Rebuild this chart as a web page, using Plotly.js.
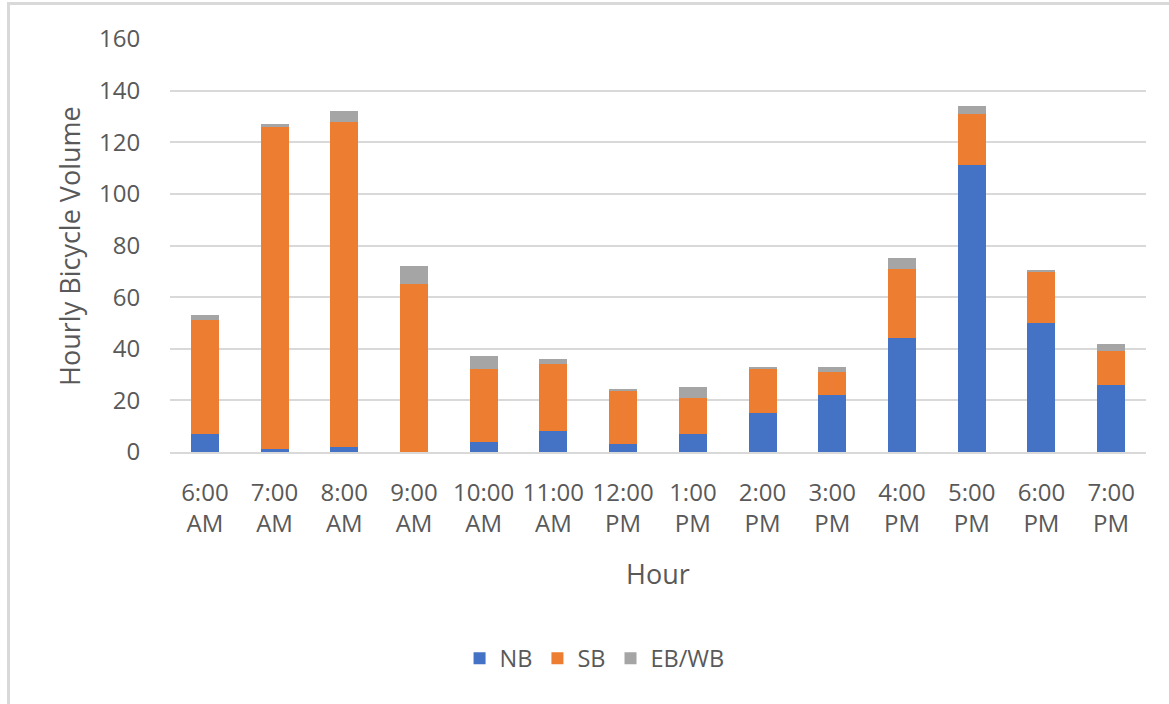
<!DOCTYPE html>
<html>
<head>
<meta charset="utf-8">
<script src="https://cdn.plot.ly/plotly-3.0.1.min.js"></script>
<style>
  html, body { margin: 0; padding: 0; background: #fff; }
  #wrap { position: relative; width: 1169px; height: 704px; overflow: hidden; }
  #chart { width: 1169px; height: 704px; }
  #frame { position: absolute; left: 7px; top: 2px; width: 1200px; height: 800px;
           border-left: 3px solid #d9d9d9; border-top: 3px solid #d9d9d9; pointer-events: none; }
</style>
</head>
<body>
<div id="wrap">
  <div id="chart"></div>
  <div id="frame"></div>
</div>
<script>
const categories = ["6:00<br>AM", "7:00<br>AM", "8:00<br>AM", "9:00<br>AM", "10:00<br>AM", "11:00<br>AM",
  "12:00<br>PM", "1:00<br>PM", "2:00<br>PM", "3:00<br>PM", "4:00<br>PM", "5:00<br>PM", "6:00<br>PM", "7:00<br>PM"];
const nb   = [7, 1, 2, 0, 4, 8, 3, 7, 15, 22, 44, 111, 50, 26];
const sb   = [44, 125, 126, 65, 28, 26, 21, 14, 17, 9, 27, 20, 20, 13];
const ebwb = [2, 1, 4, 7, 5, 2, 0.6, 4, 1, 2, 4, 3, 0.6, 3];
const yTicks = [0, 20, 40, 60, 80, 100, 120, 140, 160];

const font = "'Open Sans', 'Noto Sans', sans-serif";
const textColor = "#595959";

const traces = [
  { name: "NB", y: nb, color: "#4472C4" },
  { name: "SB", y: sb, color: "#ED7D31" },
  { name: "EB/WB", y: ebwb, color: "#A5A5A5" }
].map(s => ({
  type: "bar",
  name: s.name,
  x: categories,
  y: s.y,
  marker: { color: s.color, line: { width: 0 } },
  hoverinfo: "x+y+name"
}));

const layout = {
  width: 1169,
  height: 704,
  paper_bgcolor: "#ffffff",
  plot_bgcolor: "#ffffff",
  barmode: "stack",
  bargap: 0.6,
  margin: { l: 170, r: 23, t: 39, b: 252, pad: 0 },
  font: { family: font, color: textColor, size: 24 },
  showlegend: true,
  legend: {
    orientation: "h",
    x: 0.435, xanchor: "center",
    y: -0.5, yanchor: "middle",
    font: { family: font, size: 23.5, color: textColor },
    itemwidth: 30,
    traceorder: "normal"
  },
  xaxis: {
    type: "category",
    showgrid: false,
    showline: true,
    linecolor: "#d9d9d9",
    linewidth: 2,
    ticks: "outside",
    ticklen: 18,
    tickcolor: "rgba(0,0,0,0)",
    tickfont: { family: font, size: 24, color: textColor },
    fixedrange: true,
    automargin: false
  },
  yaxis: {
    range: [0, 160],
    tickvals: yTicks,
    ticktext: yTicks.map(String),
    showgrid: true,
    gridcolor: "#d9d9d9",
    gridwidth: 1.6,
    zeroline: false,
    showline: false,
    ticks: "outside",
    ticklen: 24,
    tickcolor: "rgba(0,0,0,0)",
    tickfont: { family: font, size: 24, color: textColor },
    fixedrange: true,
    automargin: false
  },
  annotations: [
    {
      text: "Hourly Bicycle Volume",
      xref: "paper", yref: "paper",
      x: -0.1, xanchor: "center", xshift: -3,
      y: 0.5, yanchor: "middle",
      textangle: -90,
      showarrow: false,
      font: { family: font, size: 27, color: textColor }
    },
    {
      text: "Hour",
      xref: "paper", yref: "paper",
      x: 0.5, xanchor: "center",
      y: -0.295, yanchor: "middle",
      showarrow: false,
      font: { family: font, size: 27, color: textColor }
    }
  ]
};

Plotly.newPlot("chart", traces, layout, { displayModeBar: false, staticPlot: false });
</script>
</body>
</html>
